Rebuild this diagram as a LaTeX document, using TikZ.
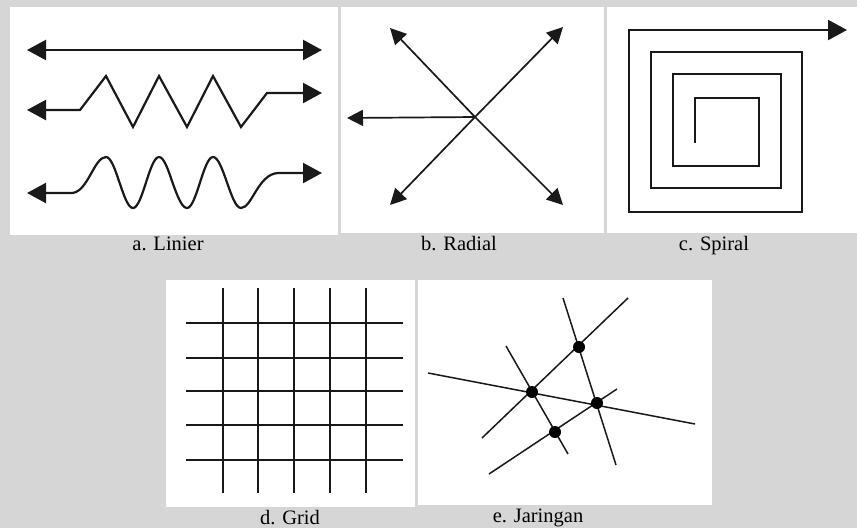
\documentclass[tikz,border=0pt]{standalone}
\usepackage{fontspec}
\setmainfont{Liberation Serif}
\usetikzlibrary{arrows.meta}
\begin{document}
\begin{tikzpicture}[x=1pt,y=-1pt,
  ln/.style={line width=1.9pt, line join=miter, black!90},
  arr/.style={ln, line width=2.2pt, -{Triangle[length=19pt,width=20pt]}},
  darr/.style={ln, line width=2.2pt, {Triangle[length=19pt,width=20pt]}-{Triangle[length=19pt,width=20pt]}},
  rarr/.style={ln, line width=1.7pt, -{Triangle[length=16pt,width=16pt]}},
  thin/.style={ln, line width=1.5pt},
  panel/.style={fill=white, draw=none},
  lbl/.style={font=\fontsize{20.5}{24}\selectfont, inner sep=0pt},
  dotnode/.style={circle, fill=black, inner sep=0pt, minimum size=12pt}]
\fill[gray!32] (0,0) rectangle (857,528);
\useasboundingbox (0,0) rectangle (857,528);
% panels
\fill[panel] (10,7) rectangle (338,235);
\fill[panel] (341,7) rectangle (604,233);
\fill[panel] (607,7) rectangle (857,233);
\fill[panel] (166,280) rectangle (415,507);
\fill[panel] (418,280) rectangle (712,505);
% a. Linier
\draw[darr] (27,50) -- (322,50);
\draw[darr] (27,110) -- (80,110) -- (106,76) -- (133,127) -- (159,76) -- (187,127) -- (213,76) -- (241,127) -- (267,93) -- (322,93);
\draw[darr] (27,193) -- (72,193) .. controls (88,192) and (94,157) .. (106,157)
  cos (119.5,182.5) sin (133,208) cos (146,182.5) sin (159,157)
  cos (172.5,182.5) sin (187,208) cos (200,182.5) sin (213,157)
  cos (227,182.5) sin (241,208)
  .. controls (252,208) and (258,174) .. (278,173) -- (322,173);
\node[lbl] (la) at (168,244) {a. Linier};
% b. Radial
\coordinate (C) at (475,117);
\coordinate (ul) at (390,28);
\coordinate (ur) at (563,27);
\coordinate (lf) at (347,118);
\coordinate (ll) at (390,205);
\coordinate (lr) at (563,205);
\foreach \t in {ul,ur,lf,ll,lr} \draw[rarr] (C) -- (\t);
\node[lbl] (lb) at (459,244) {b. Radial};
% c. Spiral
\draw[arr] (695,143) -- (695,98) -- (759,98) -- (759,166) -- (673,166) -- (673,74) -- (781,74) -- (781,188) -- (651,188) -- (651,52) -- (802,52) -- (802,212) -- (629,212) -- (629,30) -- (847,30);
\node[lbl] (lc) at (714,246) {c. Spiral};
% d. Grid
\foreach \x in {223,258,294,330,366} \draw[ln] (\x,288) -- (\x,493);
\foreach \y in {323,358,391,425,460} \draw[ln] (186,\y) -- (403,\y);
\node[lbl] (ld) at (290,518) {d. Grid};
% e. Jaringan
\draw[thin] (428,373) -- (695,424);
\draw[thin] (628,298) -- (482,438);
\draw[thin] (563,298) -- (616,465);
\draw[thin] (506,346) -- (568,454);
\draw[thin] (489,474) -- (617,389);
\node[dotnode] (d1) at (579,347) {};
\node[dotnode] (d2) at (532,392) {};
\node[dotnode] (d3) at (597,403) {};
\node[dotnode] (d4) at (555,432) {};
\node[lbl] (le) at (538,518) {e. Jaringan};
\end{tikzpicture}
\end{document}
